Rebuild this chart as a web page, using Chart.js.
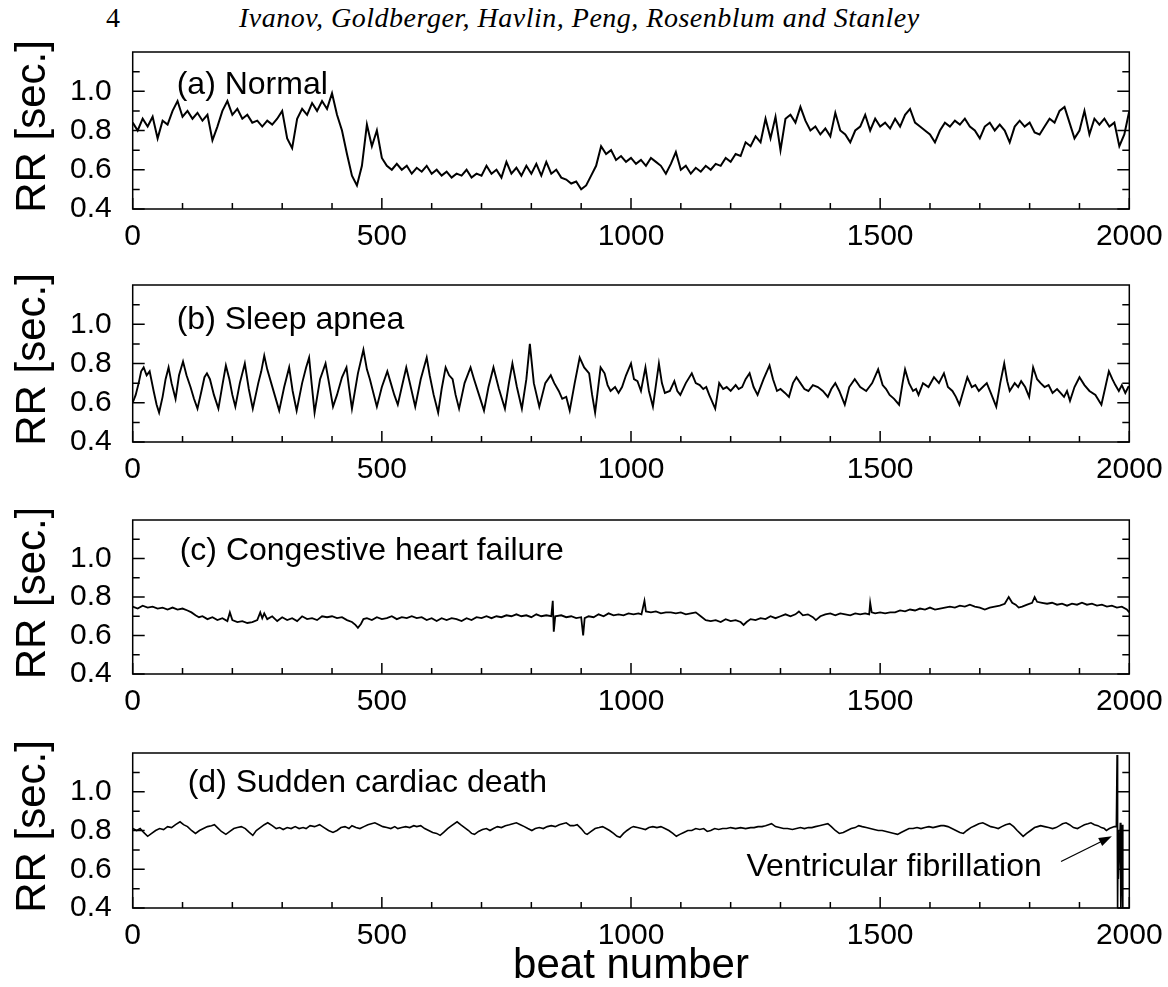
<!DOCTYPE html>
<html>
<head>
<meta charset="utf-8">
<script src="https://cdn.jsdelivr.net/npm/chart.js@4.4.0/dist/chart.umd.min.js"></script>
<style>
body { margin: 0; background: #fff; width: 1168px; height: 987px; position: relative; overflow: hidden; }
canvas { position: absolute; left: 0; }
.hdr { position: absolute; top: 2px; font-family: "Liberation Serif", serif; font-size: 28px; color: #000; white-space: nowrap; }
</style>
</head>
<body>
<div class="hdr" style="left:106px">4</div>
<div class="hdr" style="left:239px;font-style:italic;letter-spacing:0.5px">Ivanov, Goldberger, Havlin, Peng, Rosenblum and Stanley</div>
<canvas id="ca" width="1168" height="227" style="top:42px"></canvas>
<canvas id="cb" width="1168" height="227" style="top:275px"></canvas>
<canvas id="cc" width="1168" height="224" style="top:510px"></canvas>
<canvas id="cd" width="1168" height="244" style="top:743px"></canvas>
<script>
// tick values
var xTicks = [0, 500, 1000, 1500, 2000];
var xMinor = [100, 200, 300, 400, 600, 700, 800, 900, 1100, 1200, 1300, 1400, 1600, 1700, 1800, 1900];
var yTicks = [0.4, 0.6, 0.8, 1.0];
var yMinor = [0.5, 0.7, 0.9, 1.1];

// (a) normal - one value every 10 beats
var A_STEP = 10;
var aRR = [
  0.84,0.80,0.86,0.82,0.87,0.76,0.85,0.83,0.90,0.95,
  0.87,0.90,0.86,0.89,0.85,0.88,0.75,0.82,0.90,0.95,
  0.88,0.91,0.86,0.88,0.84,0.85,0.82,0.85,0.83,0.86,
  0.90,0.76,0.71,0.86,0.91,0.88,0.94,0.90,0.95,0.91,
  0.99,0.88,0.80,0.68,0.57,0.52,0.62,0.83,0.72,0.80,
  0.66,0.62,0.60,0.63,0.60,0.62,0.58,0.61,0.59,0.62,
  0.58,0.60,0.57,0.59,0.56,0.58,0.57,0.60,0.56,0.58,
  0.57,0.62,0.58,0.60,0.56,0.64,0.58,0.61,0.57,0.62,
  0.58,0.63,0.57,0.64,0.58,0.60,0.56,0.55,0.53,0.54,
  0.50,0.52,0.57,0.62,0.72,0.68,0.70,0.65,0.67,0.64,
  0.66,0.63,0.65,0.62,0.66,0.64,0.62,0.58,0.63,0.69,
  0.60,0.62,0.58,0.61,0.59,0.62,0.60,0.63,0.62,0.66,
  0.64,0.68,0.67,0.74,0.72,0.77,0.74,0.86,0.76,0.87,
  0.70,0.86,0.88,0.84,0.92,0.85,0.80,0.82,0.78,0.81,
  0.77,0.89,0.80,0.78,0.74,0.80,0.82,0.88,0.80,0.86,
  0.82,0.84,0.81,0.86,0.82,0.88,0.91,0.84,0.82,0.80,
  0.78,0.74,0.80,0.84,0.82,0.85,0.83,0.86,0.82,0.80,
  0.76,0.82,0.84,0.80,0.83,0.80,0.74,0.82,0.85,0.82,
  0.84,0.79,0.78,0.82,0.86,0.84,0.90,0.92,0.84,0.76,
  0.80,0.90,0.78,0.86,0.83,0.86,0.82,0.84,0.72,0.78,
  0.90
];

// (b) sleep apnea
var bBeats = [0,6,12,17,22,28,34,42,48,53,60,66,72,78,86,93,101,108,116,123,130,138,144,149,155,163,172,180,187,194,200,206,215,225,233,241,252,258,264,270,278,286,294,304,314,321,329,340,348,354,359,365,376,387,394,402,410,420,429,434,440,452,463,470,476,483,490,500,511,518,525,532,540,549,558,567,578,590,596,604,613,620,628,635,642,648,655,666,678,685,695,705,714,724,735,747,755,762,771,781,790,797,805,816,828,839,846,855,862,870,877,887,897,906,916,922,928,939,947,953,959,968,975,982,990,1000,1006,1013,1020,1029,1036,1044,1056,1062,1068,1078,1087,1093,1099,1110,1122,1130,1138,1145,1151,1157,1169,1177,1185,1192,1200,1210,1216,1223,1230,1238,1246,1254,1266,1278,1285,1293,1300,1309,1317,1325,1332,1340,1348,1356,1365,1375,1385,1395,1402,1410,1418,1429,1438,1449,1460,1472,1484,1496,1505,1512,1519,1528,1538,1545,1550,1558,1566,1572,1577,1586,1597,1608,1618,1628,1636,1645,1652,1659,1667,1675,1684,1691,1698,1706,1714,1722,1733,1741,1749,1755,1760,1770,1777,1783,1791,1799,1807,1815,1822,1830,1838,1846,1855,1862,1869,1875,1881,1890,1900,1910,1920,1932,1944,1952,1959,1966,1972,1979,1985,1992,1998,2000];
var bRR = [0.60,0.64,0.70,0.76,0.78,0.74,0.76,0.66,0.59,0.55,0.63,0.72,0.78,0.70,0.62,0.74,0.81,0.74,0.68,0.62,0.57,0.66,0.73,0.75,0.72,0.64,0.57,0.69,0.79,0.72,0.64,0.58,0.70,0.80,0.67,0.57,0.70,0.76,0.84,0.77,0.70,0.63,0.56,0.68,0.78,0.66,0.56,0.70,0.78,0.83,0.70,0.55,0.72,0.80,0.70,0.58,0.64,0.73,0.78,0.68,0.57,0.75,0.87,0.77,0.72,0.65,0.58,0.68,0.76,0.70,0.64,0.59,0.68,0.78,0.68,0.58,0.72,0.83,0.74,0.64,0.55,0.67,0.78,0.74,0.72,0.64,0.57,0.70,0.78,0.72,0.64,0.56,0.68,0.78,0.67,0.57,0.70,0.80,0.68,0.57,0.72,0.90,0.70,0.58,0.70,0.74,0.70,0.66,0.62,0.63,0.56,0.70,0.83,0.78,0.75,0.64,0.55,0.78,0.75,0.69,0.66,0.68,0.65,0.68,0.74,0.80,0.72,0.71,0.66,0.78,0.66,0.58,0.80,0.70,0.65,0.66,0.71,0.66,0.64,0.70,0.75,0.70,0.69,0.67,0.68,0.64,0.57,0.70,0.67,0.68,0.66,0.69,0.67,0.68,0.72,0.75,0.68,0.64,0.72,0.79,0.72,0.66,0.67,0.65,0.63,0.70,0.73,0.70,0.67,0.66,0.69,0.68,0.66,0.63,0.67,0.70,0.66,0.59,0.68,0.72,0.68,0.66,0.70,0.77,0.69,0.67,0.64,0.62,0.59,0.70,0.77,0.70,0.66,0.67,0.64,0.70,0.68,0.73,0.70,0.75,0.68,0.66,0.63,0.59,0.66,0.73,0.68,0.69,0.66,0.68,0.70,0.65,0.58,0.70,0.80,0.71,0.66,0.70,0.68,0.71,0.68,0.63,0.78,0.72,0.70,0.68,0.69,0.65,0.67,0.65,0.63,0.66,0.61,0.68,0.73,0.69,0.66,0.64,0.59,0.68,0.76,0.72,0.69,0.66,0.69,0.65,0.68,0.68];

// (c) congestive heart failure
var cBeats = [0,10,20,30,40,50,60,70,80,90,100,110,118,126,133,140,150,160,170,180,190,195,200,210,220,230,240,250,256,260,264,270,280,290,300,310,320,330,340,350,360,370,380,390,400,410,420,430,440,447,452,458,463,470,480,490,500,510,520,530,540,550,560,570,580,590,600,610,620,630,640,650,660,670,680,690,700,710,720,730,740,750,760,770,780,790,800,810,820,830,840,843,845,848,860,870,880,890,900,904,907,915,925,935,945,955,965,975,985,995,1005,1015,1021,1027,1030,1040,1050,1060,1070,1080,1090,1100,1110,1120,1130,1140,1150,1160,1170,1180,1190,1200,1210,1220,1226,1232,1240,1250,1260,1270,1280,1290,1300,1310,1320,1330,1337,1345,1355,1365,1371,1380,1390,1400,1410,1420,1430,1440,1450,1460,1470,1478,1480,1483,1490,1500,1510,1520,1530,1540,1550,1560,1570,1580,1590,1600,1610,1620,1630,1640,1650,1660,1670,1680,1690,1700,1710,1720,1730,1740,1750,1758,1765,1772,1778,1785,1795,1805,1810,1815,1825,1835,1845,1855,1865,1875,1885,1895,1905,1915,1925,1935,1945,1955,1965,1975,1985,1995,2000];
var cRR = [0.75,0.74,0.755,0.745,0.75,0.74,0.745,0.735,0.745,0.735,0.74,0.73,0.72,0.705,0.695,0.70,0.685,0.695,0.68,0.69,0.675,0.72,0.68,0.67,0.675,0.665,0.67,0.68,0.72,0.69,0.715,0.685,0.70,0.675,0.695,0.68,0.69,0.675,0.70,0.685,0.69,0.68,0.70,0.695,0.70,0.69,0.695,0.68,0.67,0.655,0.64,0.66,0.685,0.69,0.68,0.695,0.685,0.69,0.70,0.685,0.695,0.69,0.70,0.69,0.695,0.68,0.69,0.675,0.69,0.68,0.69,0.685,0.675,0.69,0.68,0.695,0.69,0.70,0.69,0.70,0.695,0.705,0.70,0.71,0.70,0.705,0.695,0.71,0.70,0.705,0.70,0.78,0.62,0.70,0.705,0.695,0.70,0.69,0.695,0.60,0.69,0.70,0.695,0.71,0.70,0.715,0.705,0.71,0.705,0.715,0.71,0.715,0.71,0.78,0.725,0.72,0.725,0.715,0.72,0.72,0.715,0.72,0.71,0.715,0.72,0.70,0.68,0.675,0.68,0.67,0.685,0.675,0.68,0.67,0.655,0.67,0.685,0.68,0.69,0.685,0.70,0.69,0.70,0.71,0.70,0.71,0.725,0.705,0.71,0.695,0.68,0.70,0.71,0.715,0.705,0.715,0.71,0.705,0.715,0.71,0.715,0.71,0.77,0.72,0.715,0.72,0.715,0.72,0.72,0.73,0.725,0.735,0.73,0.74,0.735,0.745,0.735,0.74,0.745,0.75,0.745,0.755,0.75,0.76,0.75,0.745,0.735,0.745,0.75,0.755,0.765,0.80,0.77,0.76,0.745,0.75,0.76,0.77,0.80,0.775,0.77,0.765,0.77,0.76,0.765,0.755,0.765,0.76,0.77,0.76,0.765,0.755,0.76,0.75,0.755,0.745,0.75,0.735,0.72];

// (d) sudden cardiac death, ventricular fibrillation at the end
var dBeats = [0,8,15,22,30,38,46,54,62,70,78,86,95,102,110,118,126,134,142,150,158,164,170,178,187,195,203,210,218,226,234,241,248,256,264,271,280,288,295,302,310,318,326,334,342,348,356,365,375,384,393,402,410,418,426,434,440,448,456,464,472,479,486,494,502,510,518,526,532,540,548,556,564,570,578,586,594,602,610,617,624,632,640,651,658,666,674,680,686,694,702,710,717,724,732,740,748,756,763,770,778,786,793,801,808,816,824,832,840,848,856,863,870,878,885,892,900,908,912,920,928,936,943,950,957,965,972,978,985,992,1000,1005,1013,1021,1029,1036,1044,1052,1060,1068,1076,1084,1091,1098,1106,1114,1122,1130,1138,1146,1153,1160,1168,1176,1184,1192,1200,1210,1220,1230,1240,1247,1255,1263,1270,1276,1282,1290,1298,1306,1314,1324,1332,1340,1348,1356,1363,1370,1378,1386,1395,1402,1410,1418,1426,1434,1442,1450,1457,1464,1472,1480,1488,1496,1504,1512,1520,1528,1535,1542,1550,1558,1566,1574,1582,1590,1598,1606,1614,1622,1628,1636,1644,1652,1660,1667,1674,1682,1690,1698,1706,1714,1722,1730,1737,1744,1752,1760,1768,1775,1781,1787,1794,1802,1810,1816,1822,1830,1838,1846,1853,1860,1866,1873,1880,1888,1896,1903,1910,1917,1923,1930,1937,1944,1950,1954,1960,1965,1970,1974,1975.5,1976.5,1977.5,1978,1982,1983,1986,1987];
var dRR = [0.81,0.80,0.81,0.79,0.77,0.785,0.80,0.81,0.805,0.82,0.815,0.83,0.845,0.83,0.82,0.80,0.785,0.80,0.81,0.82,0.825,0.83,0.815,0.795,0.78,0.795,0.81,0.815,0.82,0.81,0.79,0.775,0.80,0.815,0.83,0.84,0.825,0.81,0.815,0.805,0.815,0.81,0.82,0.81,0.815,0.81,0.825,0.82,0.83,0.815,0.80,0.79,0.80,0.815,0.82,0.81,0.825,0.815,0.81,0.82,0.83,0.835,0.84,0.83,0.82,0.815,0.81,0.82,0.81,0.815,0.82,0.815,0.825,0.82,0.825,0.81,0.80,0.79,0.785,0.775,0.79,0.81,0.825,0.845,0.83,0.815,0.80,0.785,0.78,0.795,0.805,0.81,0.80,0.81,0.82,0.815,0.825,0.83,0.835,0.84,0.83,0.82,0.81,0.80,0.81,0.815,0.81,0.82,0.825,0.82,0.83,0.835,0.84,0.825,0.825,0.83,0.81,0.785,0.78,0.795,0.81,0.815,0.82,0.81,0.80,0.785,0.77,0.765,0.785,0.80,0.815,0.82,0.815,0.81,0.805,0.815,0.82,0.815,0.82,0.81,0.80,0.785,0.77,0.78,0.79,0.80,0.80,0.81,0.805,0.81,0.795,0.80,0.81,0.805,0.81,0.81,0.815,0.81,0.815,0.81,0.815,0.815,0.82,0.82,0.825,0.83,0.835,0.82,0.815,0.81,0.81,0.805,0.81,0.815,0.81,0.815,0.815,0.82,0.825,0.83,0.835,0.82,0.80,0.785,0.79,0.80,0.81,0.815,0.825,0.82,0.815,0.81,0.805,0.80,0.80,0.795,0.79,0.785,0.78,0.79,0.80,0.81,0.81,0.815,0.81,0.815,0.82,0.815,0.82,0.825,0.825,0.82,0.81,0.80,0.79,0.785,0.80,0.815,0.825,0.835,0.84,0.83,0.82,0.815,0.81,0.82,0.83,0.835,0.82,0.80,0.785,0.77,0.785,0.80,0.815,0.82,0.825,0.82,0.815,0.81,0.815,0.825,0.835,0.84,0.83,0.815,0.81,0.82,0.83,0.835,0.84,0.83,0.825,0.815,0.81,0.80,0.81,0.815,0.82,0.82,1.19,0.38,0.80,0.55,0.84,0.38,0.83,0.38];

var FONT = '"Liberation Sans", Arial, sans-serif';

// frame, inward tick marks, y title, panel label and arrow note
var frameTicks = {
  id: 'frameTicks',
  afterDatasetsDraw: function (chart, args, opts) {
    var ctx = chart.ctx, a = chart.chartArea, x = chart.scales.x, y = chart.scales.y;
    ctx.save();
    ctx.strokeStyle = '#000';
    ctx.lineWidth = 1.5;
    ctx.strokeRect(a.left, a.top, a.right - a.left, a.bottom - a.top);
    ctx.beginPath();
    function yt(v, len) {
      var py = y.getPixelForValue(v);
      ctx.moveTo(a.left, py); ctx.lineTo(a.left + len, py);
      ctx.moveTo(a.right, py); ctx.lineTo(a.right - len, py);
    }
    function xt(v, len) {
      var px = x.getPixelForValue(v);
      ctx.moveTo(px, a.bottom); ctx.lineTo(px, a.bottom - len);
    }
    yTicks.forEach(function (v) { yt(v, 12); });
    yMinor.forEach(function (v) { yt(v, 7); });
    xTicks.forEach(function (v) { xt(v, 11); });
    xMinor.forEach(function (v) { xt(v, 6); });
    ctx.stroke();

    ctx.fillStyle = '#000';
    ctx.textBaseline = 'middle';

    // y axis title
    ctx.save();
    ctx.font = '42px ' + FONT;
    ctx.translate(33, (a.top + a.bottom) / 2 - 4);
    ctx.rotate(-Math.PI / 2);
    ctx.textAlign = 'center';
    ctx.fillText('RR [sec.]', 0, 0);
    ctx.restore();

    ctx.font = '32px ' + FONT;
    ctx.textAlign = 'left';
    ctx.fillText(opts.label, a.left + opts.dx, a.top + opts.dy);

    if (opts.note) {
      var n = opts.note;
      ctx.textAlign = 'center';
      ctx.fillText(n.text, x.getPixelForValue(n.x), y.getPixelForValue(n.y));
      var x0 = x.getPixelForValue(n.from[0]), y0 = y.getPixelForValue(n.from[1]);
      var x1 = x.getPixelForValue(n.to[0]), y1 = y.getPixelForValue(n.to[1]);
      var ang = Math.atan2(y1 - y0, x1 - x0);
      ctx.lineWidth = 1.3;
      ctx.beginPath();
      ctx.moveTo(x0, y0);
      ctx.lineTo(x1 - 10 * Math.cos(ang), y1 - 10 * Math.sin(ang));
      ctx.stroke();
      ctx.beginPath();
      ctx.moveTo(x1, y1);
      ctx.lineTo(x1 - 13 * Math.cos(ang) + 4.5 * Math.sin(ang), y1 - 13 * Math.sin(ang) - 4.5 * Math.cos(ang));
      ctx.lineTo(x1 - 13 * Math.cos(ang) - 4.5 * Math.sin(ang), y1 - 13 * Math.sin(ang) + 4.5 * Math.cos(ang));
      ctx.closePath();
      ctx.fill();
    }
    ctx.restore();
  }
};

var tickFont = { family: FONT, size: 30 };

function makePanel(id, points, lineW, label, dx, dy, axisH, note, xTitle) {
  new Chart(document.getElementById(id), {
    type: 'line',
    data: { datasets: [{ data: points, borderColor: '#000', borderWidth: lineW, pointRadius: 0, tension: 0, fill: false, borderJoinStyle: 'miter' }] },
    options: {
      responsive: false,
      animation: false,
      events: [],
      layout: { padding: { top: 10, right: 38.7, left: 0, bottom: 0 } },
      plugins: {
        legend: { display: false },
        tooltip: { enabled: false },
        frameTicks: { label: label, dx: dx, dy: dy, note: note }
      },
      scales: {
        x: {
          type: 'linear', min: 0, max: 2000,
          grid: { display: false, drawTicks: false },
          border: { display: false },
          afterBuildTicks: function (s) { s.ticks = xTicks.map(function (v) { return { value: v }; }); },
          afterFit: function (s) { s.height = axisH; s.paddingLeft = 0; s.paddingRight = 0; },
          ticks: { font: tickFont, color: '#000', padding: 10, maxRotation: 0, autoSkip: false,
                   callback: function (v) { return String(v); } },
          title: xTitle ? { display: true, text: xTitle, color: '#000', font: { family: FONT, size: 42, lineHeight: 1 }, padding: { top: 0, bottom: 0 } } : { display: false }
        },
        y: {
          min: 0.4, max: 1.2,
          grid: { display: false, drawTicks: false },
          border: { display: false },
          afterBuildTicks: function (s) { s.ticks = yTicks.map(function (v) { return { value: v }; }); },
          afterFit: function (s) { s.width = 132.7; s.paddingTop = 0; s.paddingBottom = 0; },
          ticks: { font: tickFont, color: '#000', padding: 21, callback: function (v) { return v.toFixed(1); } }
        }
      }
    },
    plugins: [frameTicks]
  });
}

var aPts = aRR.map(function (v, i) { return { x: i * A_STEP, y: v }; });
var bPts = bBeats.map(function (b, i) { return { x: b, y: bRR[i] }; });
var cPts = cBeats.map(function (b, i) { return { x: b, y: cRR[i] }; });
var dPts = dBeats.map(function (b, i) { return { x: b, y: dRR[i] }; });

makePanel('ca', aPts, 2, '(a) Normal', 44, 33, 60);
makePanel('cb', bPts, 1.9, '(b) Sleep apnea', 44, 35, 60);
makePanel('cc', cPts, 1.8, '(c) Congestive heart failure', 47, 31, 60);
makePanel('cd', dPts, 1.6, '(d) Sudden cardiac death', 55, 30, 79,
  { text: 'Ventricular fibrillation', x: 1528, y: 0.61, from: [1863, 0.64], to: [1965, 0.77] },
  'beat number');
</script>
</body>
</html>
